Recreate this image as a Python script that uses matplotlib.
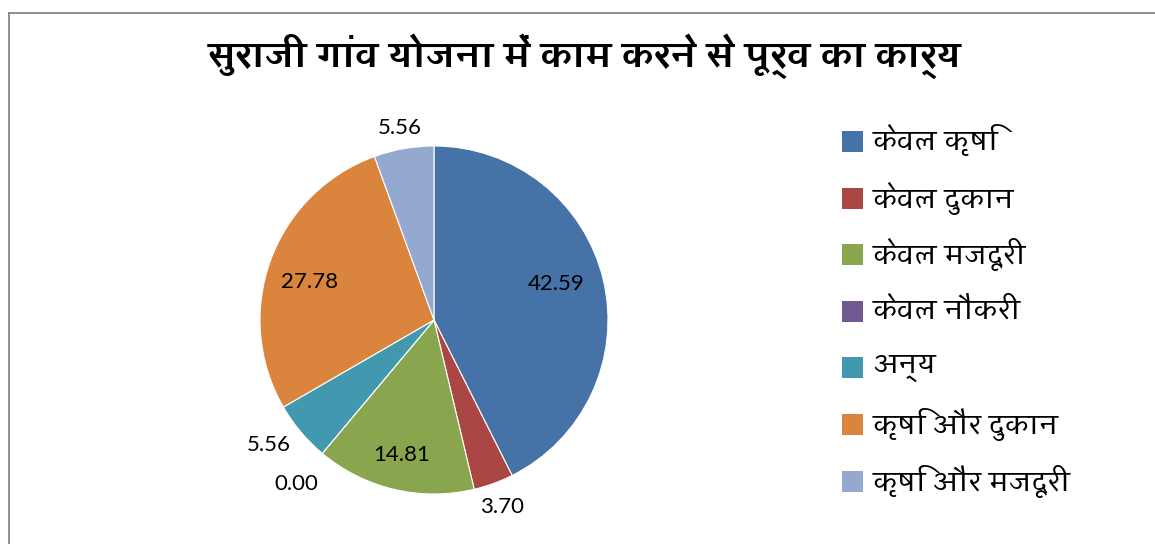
import matplotlib
matplotlib.use("Agg")
import matplotlib.pyplot as plt
from matplotlib import font_manager
from matplotlib.lines import Line2D
from matplotlib.patches import Rectangle
import numpy as np
import os

# ---- data ----
title = "सुराजी गांव योजना में काम करने से पूर्व का कार्य"
categories = ["केवल कृषि", "केवल दुकान", "केवल मजदूरी", "केवल नौकरी",
              "अन्य", "कृषि और दुकान", "कृषि और मजदूरी"]
values = [42.59, 3.70, 14.81, 0.00, 5.56, 27.78, 5.56]
value_labels = ["42.59", "3.70", "14.81", "0.00", "5.56", "27.78", "5.56"]
colors = ["#4572A7", "#AA4643", "#89A54E", "#71588F", "#4198AF", "#DB843D", "#93A9CF"]
label_radius = [0.73, 1.145, 0.80, 1.23, 1.19, 0.75, 1.12]
label_angle_shift = [3, 0, 0, 0, -3, 3, 0]

# ---- pick a Devanagari font (static files preferred) ----
all_fonts = sorted(font_manager.findSystemFonts())
deva = None
for key in ["Amiko-", "Hind-", "NotoSansDevanagari-", "Mukta-", "FreeSans"]:
    hits = [p for p in all_fonts if os.path.basename(p).startswith(key)]
    if hits:
        for p in hits:
            try:
                font_manager.fontManager.addfont(p)
            except Exception:
                pass
        deva = font_manager.FontProperties(fname=hits[0]).get_name()
        break
fams = ([deva] if deva else []) + ["Liberation Sans", "DejaVu Sans"]
plt.rcParams["font.family"] = fams
num_fams = ["Lato", "Liberation Sans", "DejaVu Sans"]

W, H = 1155, 544
fig = plt.figure(figsize=(W / 100, H / 100), dpi=100)
fig.patch.set_facecolor("white")

# border (top and left visible)
fig.add_artist(Line2D([8.5 / W, 8.5 / W], [0, 1 - 12.5 / H], color="#868686", lw=1.3))
fig.add_artist(Line2D([8.5 / W, 1], [1 - 12.5 / H, 1 - 12.5 / H], color="#868686", lw=1.3))

fig.text(585 / W, 1 - 56 / H, title, ha="center", va="center", fontsize=26,
         fontweight="bold", color="black")

cx, cy, r = 434, 320, 174
ax = fig.add_axes([(cx - r) / W, (H - cy - r) / H, 2 * r / W, 2 * r / H])
wedges, _ = ax.pie(values, colors=colors, startangle=90, counterclock=False,
                   radius=1.0, wedgeprops=dict(edgecolor="white", linewidth=0.8))
ax.set_xlim(-1, 1)
ax.set_ylim(-1, 1)
ax.set_aspect("equal")
ax.axis("off")

total = sum(values)
start = 90.0
for i, v in enumerate(values):
    mid = start - v / total * 360 / 2 + label_angle_shift[i]
    start -= v / total * 360
    a = np.deg2rad(mid)
    ax.text(label_radius[i] * np.cos(a), label_radius[i] * np.sin(a), value_labels[i],
            ha="center", va="center", fontsize=16, color="black", clip_on=False,
            family=num_fams)

# legend
for i, name in enumerate(categories):
    yc = 141.5 + i * 56.6
    fig.add_artist(Rectangle((842 / W, 1 - (yc + 10.5) / H), 21 / W, 21 / H,
                             facecolor=colors[i], edgecolor="none"))
    fig.text(873 / W, 1 - yc / H, name, ha="left", va="center", fontsize=20, color="black")

fig.savefig("out.png", dpi=100)
